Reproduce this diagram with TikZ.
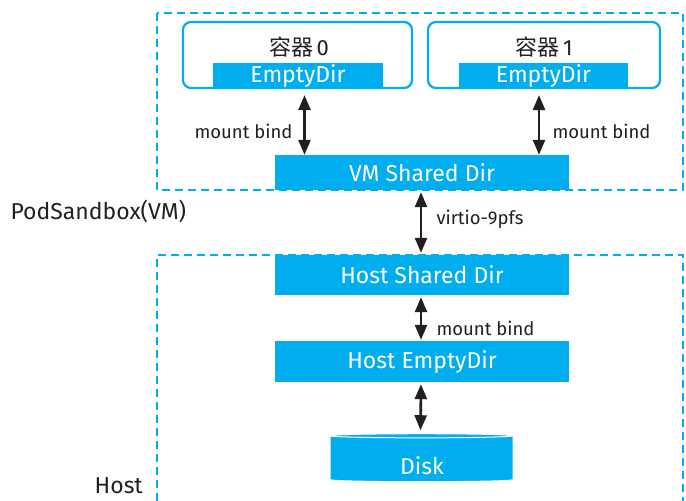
\documentclass[tikz,border=0pt]{standalone}
\usepackage{fontspec}
\setmainfont{Fira Sans}
\newfontfamily\cjk{Noto Sans CJK SC}
\usetikzlibrary{arrows.meta,shapes.geometric}
\definecolor{podblue}{RGB}{0,174,239}
\definecolor{inkgray}{RGB}{35,31,32}

\tikzset{
  dirbox/.style={fill=podblue,text=white,inner sep=0pt,font=\fontsize{23}{25}\selectfont},
  ctrbox/.style={draw=podblue,line width=2.2pt,rounded corners=8pt,inner sep=0pt},
  dashbox/.style={draw=podblue,line width=2.2pt,dash pattern=on 8pt off 5pt},
  biarrow/.style={{Triangle[length=15pt,width=12pt]}-{Triangle[length=15pt,width=12pt]},line width=2.6pt,draw=inkgray},
  smalltext/.style={text=inkgray,font=\fontsize{18.5}{20}\selectfont},
  bigtext/.style={text=inkgray,font=\fontsize{23}{25}\selectfont}
}

\begin{document}
\begin{tikzpicture}[x=1pt,y=-1pt]
\useasboundingbox (0,0) rectangle (686,501);

% sandbox and host frames
\draw[dashbox] (157,13) rectangle (683,190);
\draw[dashbox] (157,501) -- (157,255) -- (683,255) -- (683,501);

\node[bigtext,anchor=west] (podlbl) at (7,211) {PodSandbox(VM)};
\node[bigtext,anchor=base east,inner sep=0pt] (hostlbl) at (143,493) {Host};

% containers
\node[ctrbox,minimum width=229,minimum height=66] (ctr0) at (297.5,55) {};
\node[ctrbox,minimum width=232,minimum height=66] (ctr1) at (544,55) {};
\node[bigtext,font=\fontsize{22}{24}\selectfont] (ctr0lbl) at (299,47) {{\cjk 容器}\,0};
\node[bigtext,font=\fontsize{22}{24}\selectfont] (ctr1lbl) at (544,47) {{\cjk 容器}\,1};
\node[dirbox,minimum width=170,minimum height=25] (empty0) at (298,75.5) {EmptyDir};
\node[dirbox,minimum width=169,minimum height=25] (empty1) at (543.5,75.5) {EmptyDir};

\node[dirbox,minimum width=294,minimum height=35] (vmdir) at (422,172.5) {VM Shared Dir};
\node[dirbox,minimum width=294,minimum height=40] (hostdir) at (422,275) {Host Shared Dir};
\node[dirbox,minimum width=294,minimum height=41] (hostempty) at (422,361.5) {Host EmptyDir};
\node[cylinder,shape border rotate=90,aspect=0.12,draw=white,line width=1pt,
      fill=podblue,minimum width=183,minimum height=48,inner sep=0pt,
      font=\fontsize{18}{20}\selectfont] (disk) at (421.5,459) {\phantom{Disk}};
\node[dirbox,fill=none] (disklbl) at (422,466) {Disk};

% connectors
\draw[biarrow,shorten <=6pt] ([xshift=7pt]ctr0.south) -- ([xshift=7pt]ctr0.south |- vmdir.north);
\draw[biarrow,shorten <=6pt] ([xshift=-5pt]ctr1.south) -- ([xshift=-5pt]ctr1.south |- vmdir.north);
\draw[biarrow,shorten <=2pt,shorten >=2pt] ([xshift=-1pt]vmdir.south) -- ([xshift=-1pt]hostdir.north);
\draw[biarrow,shorten <=2pt,shorten >=1pt] ([xshift=-1pt]hostdir.south) -- ([xshift=-1pt]hostempty.north);
\draw[biarrow,shorten <=2pt,shorten >=3pt] ([xshift=-1pt]hostempty.south) -- ([xshift=-1pt]disk.north);

\node[smalltext,anchor=east] (mb0) at (296,131) {mount bind};
\node[smalltext,anchor=west] (mb1) at (549,131) {mount bind};
\node[smalltext,anchor=west] (virtio) at (433,219) {virtio-9pfs};
\node[smalltext,anchor=west] (mb2) at (433,328) {mount bind};
\end{tikzpicture}
\end{document}
